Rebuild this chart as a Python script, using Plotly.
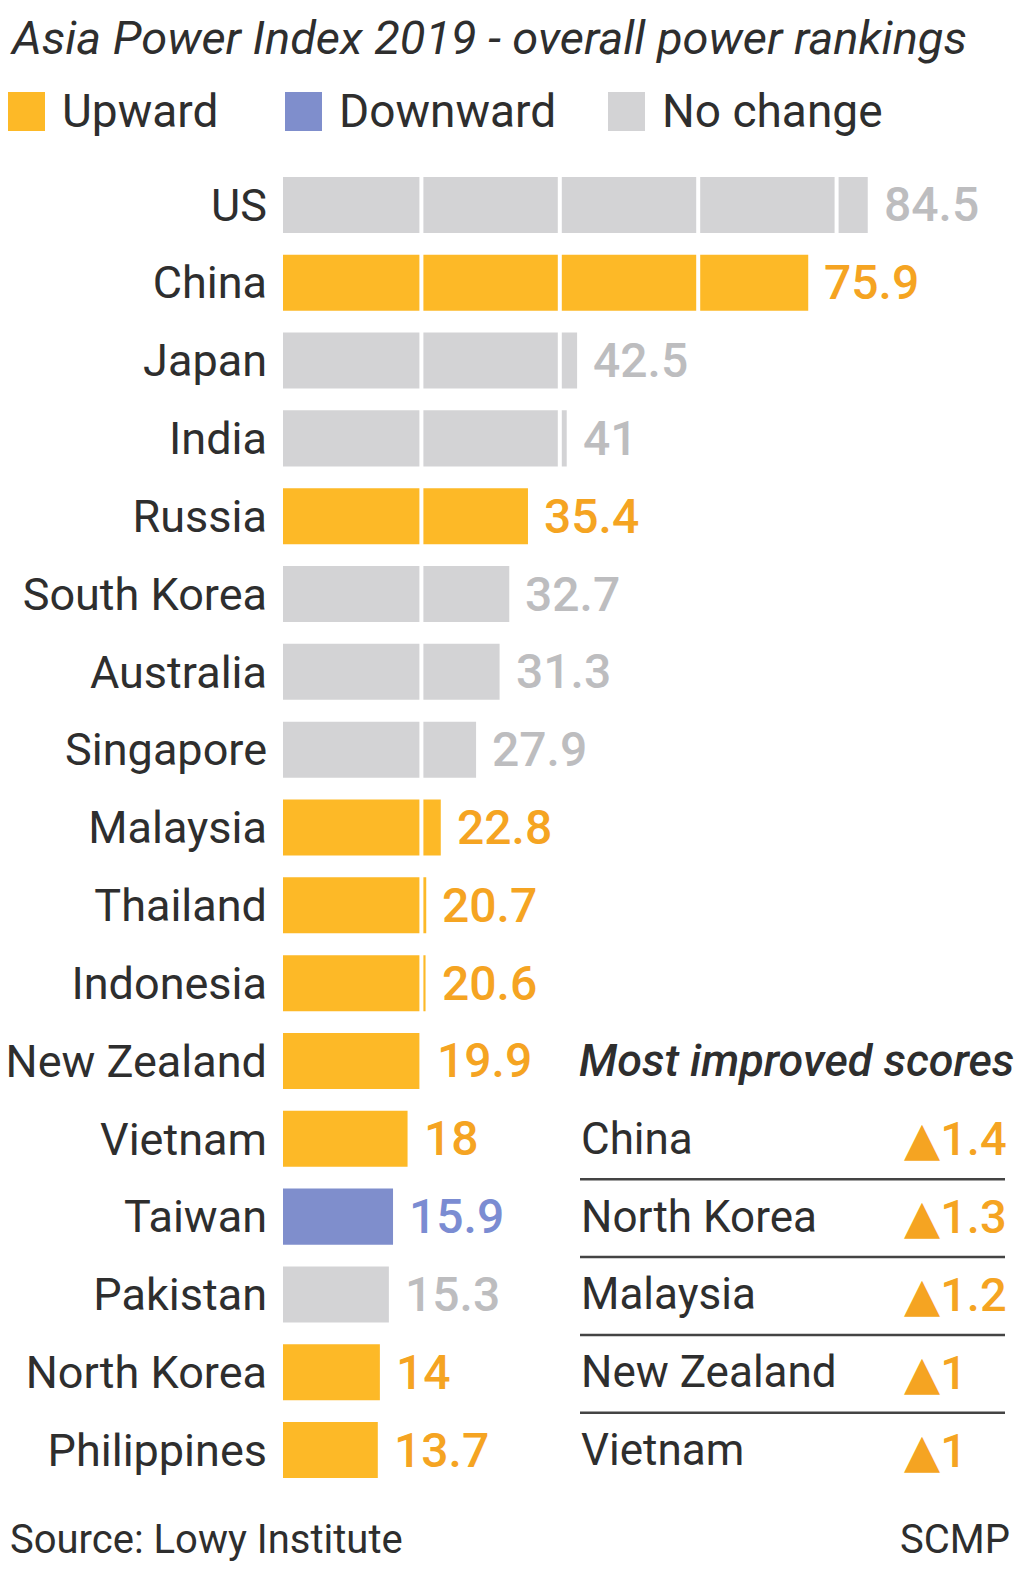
import plotly.graph_objects as go

countries = ["US", "China", "Japan", "India", "Russia", "South Korea", "Australia",
             "Singapore", "Malaysia", "Thailand", "Indonesia", "New Zealand",
             "Vietnam", "Taiwan", "Pakistan", "North Korea", "Philippines"]
scores = [84.5, 75.9, 42.5, 41, 35.4, 32.7, 31.3, 27.9, 22.8, 20.7, 20.6, 19.9,
          18, 15.9, 15.3, 14, 13.7]
trend = ["none", "up", "none", "none", "up", "none", "none", "none", "up", "up",
         "up", "up", "up", "down", "none", "up", "up"]

improved_countries = ["China", "North Korea", "Malaysia", "New Zealand", "Vietnam"]
improved_scores = ["1.4", "1.3", "1.2", "1", "1"]

legend_names = ["Upward", "Downward", "No change"]
grid_vals = [20, 40, 60, 80]

bar_col = {"up": "#FDB927", "down": "#7F8ECC", "none": "#D3D3D5"}
lab_col = {"up": "#F5A422", "down": "#7B8CD2", "none": "#BDBDBF"}
dark = "#2E2E2E"
FONT = "Roboto, DejaVu Sans, sans-serif"

W, H = 1024, 1577
L, T, B = 283, 166, 88
PH = H - T - B
PW = W - L


def px_x(x):
    return (x - L) / PW


def px_y(y):
    return (H - B - y) / PH


idx = list(range(len(countries)))

fig = go.Figure(go.Bar(
    x=scores, y=idx, orientation="h",
    marker=dict(color=[bar_col[t] for t in trend], line=dict(width=0)),
    hovertext=countries, hoverinfo="text+x",
))

annotations = []
shapes = []

# value labels
for i, (v, t) in enumerate(zip(scores, trend)):
    annotations.append(dict(
        x=v, y=i, xref="x", yref="y", text=str(v), showarrow=False,
        xanchor="left", yanchor="middle", xshift=14,
        font=dict(family=FONT, size=48, color=lab_col[t], weight=500),
    ))

# white grid lines over bars
for g in grid_vals:
    shapes.append(dict(type="line", xref="x", yref="paper", x0=g, x1=g,
                       y0=0, y1=1, line=dict(color="white", width=4),
                       layer="above"))

# title
annotations.append(dict(
    x=px_x(8), y=px_y(38), xref="paper", yref="paper", showarrow=False,
    xanchor="left", yanchor="middle",
    text="<i>Asia Power Index 2019 - overall power rankings</i>",
    font=dict(family=FONT, size=47, color=dark),
))

# legend
leg_sq = [8, 285, 608]
leg_cols = [bar_col["up"], bar_col["down"], bar_col["none"]]
for x0, name, c in zip(leg_sq, legend_names, leg_cols):
    shapes.append(dict(type="rect", xref="paper", yref="paper",
                       x0=px_x(x0), x1=px_x(x0 + 37), y0=px_y(131), y1=px_y(92),
                       fillcolor=c, line=dict(width=0)))
    annotations.append(dict(
        x=px_x(x0 + 52), y=px_y(111), xref="paper", yref="paper", text=name,
        showarrow=False, xanchor="left", yanchor="middle",
        font=dict(family=FONT, size=46, color=dark),
    ))

# most improved table
first_row = 12
annotations.append(dict(
    x=px_x(577), y=first_row - 1, xref="paper", yref="y", showarrow=False,
    xanchor="left", yanchor="middle", text="<i>Most improved scores</i>",
    font=dict(family=FONT, size=45, color=dark, weight=500),
))
for k, (c, s) in enumerate(zip(improved_countries, improved_scores)):
    r = first_row + k
    annotations.append(dict(
        x=px_x(579), y=r, xref="paper", yref="y", text=c, showarrow=False,
        xanchor="left", yanchor="middle",
        font=dict(family=FONT, size=44, color=dark),
    ))
    annotations.append(dict(
        x=px_x(902), y=r, xref="paper", yref="y", text="▲" + s, showarrow=False,
        xanchor="left", yanchor="middle",
        font=dict(family=FONT, size=47, color=lab_col["up"], weight=500),
    ))
    if k < len(improved_countries) - 1:
        shapes.append(dict(type="line", xref="paper", yref="y",
                           x0=px_x(580), x1=px_x(1005), y0=r + 0.52, y1=r + 0.52,
                           line=dict(color="#444", width=2.5), layer="above"))

# footer
annotations.append(dict(
    x=px_x(8), y=px_y(1540), xref="paper", yref="paper", showarrow=False,
    xanchor="left", yanchor="middle", text="Source: Lowy Institute",
    font=dict(family=FONT, size=40, color=dark),
))
annotations.append(dict(
    x=px_x(1012), y=px_y(1540), xref="paper", yref="paper", showarrow=False,
    xanchor="right", yanchor="middle", text="SCMP",
    font=dict(family=FONT, size=40, color=dark),
))

fig.update_layout(
    width=W, height=H,
    margin=dict(l=L, r=0, t=T, b=B, pad=0),
    plot_bgcolor="white", paper_bgcolor="white",
    bargap=0.28, showlegend=False,
    annotations=annotations, shapes=shapes,
    xaxis=dict(range=[0, PW / 6.92], showgrid=False, zeroline=False,
               showticklabels=False, fixedrange=True),
    yaxis=dict(range=[len(countries) - 0.5, -0.5], tickvals=idx,
               ticktext=countries, showgrid=False, zeroline=False,
               ticks="outside", ticklen=0, ticklabelstandoff=6,
               tickfont=dict(family=FONT, size=45, color=dark), fixedrange=True),
    font=dict(family=FONT),
)

# drop the browser's default body margin and scrollbars so the figure fills the page
fig.write_html(
    "out.html",
    config={"displayModeBar": False},
    post_script=(
        "document.body.style.margin='0';"
        "document.body.style.overflow='hidden';"
        "document.documentElement.style.overflow='hidden';"
    ),
)
